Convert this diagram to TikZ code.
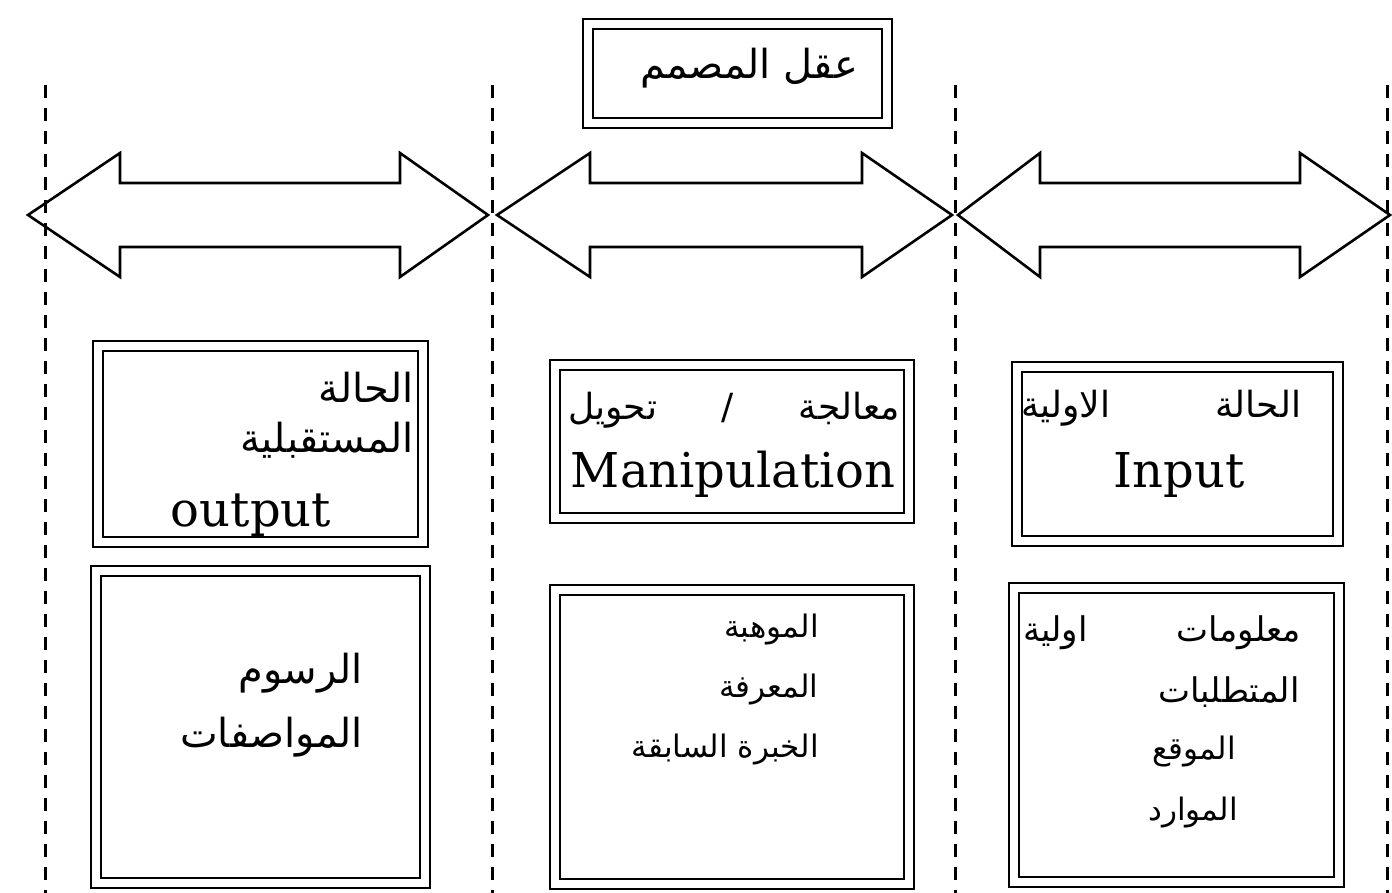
\documentclass[tikz,border=0pt]{standalone}
\usepackage{fontspec}
\setmainfont{Liberation Serif}
\newfontfamily\arabicfont[Script=Arabic]{DejaVu Sans}
\newfontfamily\latinfont{DejaVu Serif}
\TeXXeTstate=1
\newcommand{\ar}[1]{\beginR #1\endR}

\begin{document}
\begin{tikzpicture}[x=0.5pt,y=-0.5pt,
		dbox/.style={draw,double,double distance=4pt,line width=1.1pt,inner sep=0pt,outer sep=0pt},
		artext/.style={font=\fontsize{#1}{#1}\selectfont\arabicfont,inner sep=0pt},
		artext/.default=19,
		entext/.style={font=\fontsize{24}{28}\selectfont\latinfont,inner sep=0pt},
		sep/.style={line width=1.5pt,dash pattern=on 6.5pt off 5pt}]
		\useasboundingbox (0,0) rectangle (1392,893);
		\foreach \xp in {45,492,955,1387}{
			\draw[sep] (\xp,85) -- (\xp,893);
		};
		\foreach \xa/\xb/\xc/\xd in {28/120/400/488,497/590/862/952,958/1040/1300/1390}{
			\draw[line width=1.3pt,line join=miter] (\xa,215) -- (\xb,153) -- (\xb,183) -- (\xc,183) -- (\xc,153) -- (\xd,215)
				-- (\xc,277) -- (\xc,247) -- (\xb,247) -- (\xb,277) -- cycle;
		};
		\node[dbox,minimum width=149.5pt,minimum height=49.5pt] (mind) at (737.5,73.5) {};
		\node[dbox,minimum width=162.5pt,minimum height=98pt] (output) at (260.5,444) {};
		\node[dbox,minimum width=177pt,minimum height=76.5pt] (manip) at (732,441.5) {};
		\node[dbox,minimum width=160.5pt,minimum height=87pt] (input) at (1177.5,454) {};
		\node[dbox,minimum width=164.5pt,minimum height=156pt] (drawings) at (260.5,727) {};
		\node[dbox,minimum width=177pt,minimum height=147pt] (talent) at (732,737) {};
		\node[dbox,minimum width=162.5pt,minimum height=147pt] (info) at (1176.5,735) {};

		\node[artext=20] (mind-t) at (749,68) {\ar{عقل المصمم}};

		\node[artext=20,anchor=east] (output-1) at (414,387) {\ar{الحالة}};
		\node[artext=20,anchor=east] (output-2) at (414,440) {\ar{المستقبلية}};
		\node[entext] (output-3) at (251,515) {output};

		\node[artext=18] (manip-1) at (734,410) {\hbox to 166pt{\beginR معالجة\hfill/\hfill تحويل\endR}};
		\node[entext] (manip-2) at (733,474) {Manipulation};

		\node[artext=18] (input-1) at (1161,408) {\hbox to 140pt{\beginR الحالة\hfill الاولية\endR}};
		\node[entext] (input-2) at (1179,475) {Input};

		\node[artext=20,anchor=east] (drawings-1) at (363,673) {\ar{الرسوم}};
		\node[artext=20,anchor=east] (drawings-2) at (363,737) {\ar{المواصفات}};

		\foreach \t/\yp in {الموهبة/630,المعرفة/690,الخبرة السابقة/750}{
			\node[artext=15.5,anchor=east] (talent-\yp) at (819,\yp) {\ar{\t}};
		};

		\node[artext=17] (info-1) at (1162,633) {\hbox to 139pt{\beginR معلومات\hfill اولية\endR}};
		\node[artext=17,anchor=east] (info-2) at (1300,692) {\ar{المتطلبات}};
		\node[artext=15.5] (info-3) at (1194,752) {\ar{الموقع}};
		\node[artext=15.5] (info-4) at (1193,813) {\ar{الموارد}};
	\end{tikzpicture}
\end{document}
